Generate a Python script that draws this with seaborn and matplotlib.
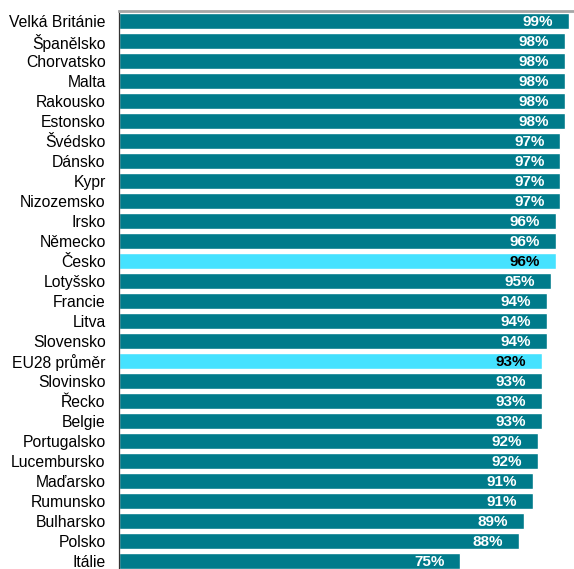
import matplotlib
matplotlib.use("Agg")
import matplotlib.pyplot as plt
from matplotlib.ticker import FixedLocator
import seaborn as sns
import pandas as pd
import numpy as np

countries = ["Velká Británie", "Španělsko", "Chorvatsko", "Malta", "Rakousko",
             "Estonsko", "Švédsko", "Dánsko", "Kypr", "Nizozemsko", "Irsko",
             "Německo", "Česko", "Lotyšsko", "Francie", "Litva", "Slovensko",
             "EU28 průměr", "Slovinsko", "Řecko", "Belgie", "Portugalsko",
             "Lucembursko", "Maďarsko", "Rumunsko", "Bulharsko", "Polsko", "Itálie"]
values = [99, 98, 98, 98, 98, 98, 97, 97, 97, 97, 96, 96, 96, 95, 94, 94, 94,
          93, 93, 93, 93, 92, 92, 91, 91, 89, 88, 75]
highlighted = ["Česko", "EU28 průměr"]

teal = "#007B8B"
cyan = "#46E2FF"

df = pd.DataFrame({"country": countries, "value": values})
df["group"] = np.where(df["country"].isin(highlighted), "hl", "base")

sns.set_style("white")
plt.rcParams["font.family"] = ["Liberation Sans", "DejaVu Sans"]

W, H = 574, 569
fig = plt.figure(figsize=(W / 100, H / 100), dpi=100)
row_px = 20.0
top_px = 11
left_px = 119
ax_h = len(countries) * row_px
ax = fig.add_axes([left_px / W, 1 - (top_px + ax_h) / H, (W - left_px) / W, ax_h / H])

sns.barplot(data=df, y="country", x="value", hue="group", palette={"base": teal, "hl": cyan},
            dodge=False, legend=False, width=0.78, orient="h", ax=ax, saturation=1)

ax.set_xlim(0, 100)
ax.set_ylim(len(countries) - 0.5, -0.5)
ax.set_xlabel("")
ax.set_ylabel("")
ax.set_xticks([])

for side in ["right", "bottom"]:
    ax.spines[side].set_visible(False)
ax.spines["top"].set_color("#A6A6A6")
ax.spines["top"].set_linewidth(2)
ax.spines["left"].set_color("#333333")
ax.spines["left"].set_linewidth(0.9)

ax.tick_params(axis="y", which="major", length=0, pad=9.6, labelsize=11.3, labelcolor="black")
ax.yaxis.set_minor_locator(FixedLocator(np.arange(-0.5, len(countries), 1.0)))
ax.tick_params(axis="y", which="minor", length=3.5, width=0.9, color="#333333", direction="out")

for i, (c, v) in enumerate(zip(countries, values)):
    col = "black" if c in highlighted else "white"
    ax.annotate(f"{v}%", xy=(v, i), xytext=(-11.5, -0.5), textcoords="offset points",
                ha="right", va="center", fontsize=11, fontweight="bold", color=col)

fig.savefig("out.png", dpi=100)
